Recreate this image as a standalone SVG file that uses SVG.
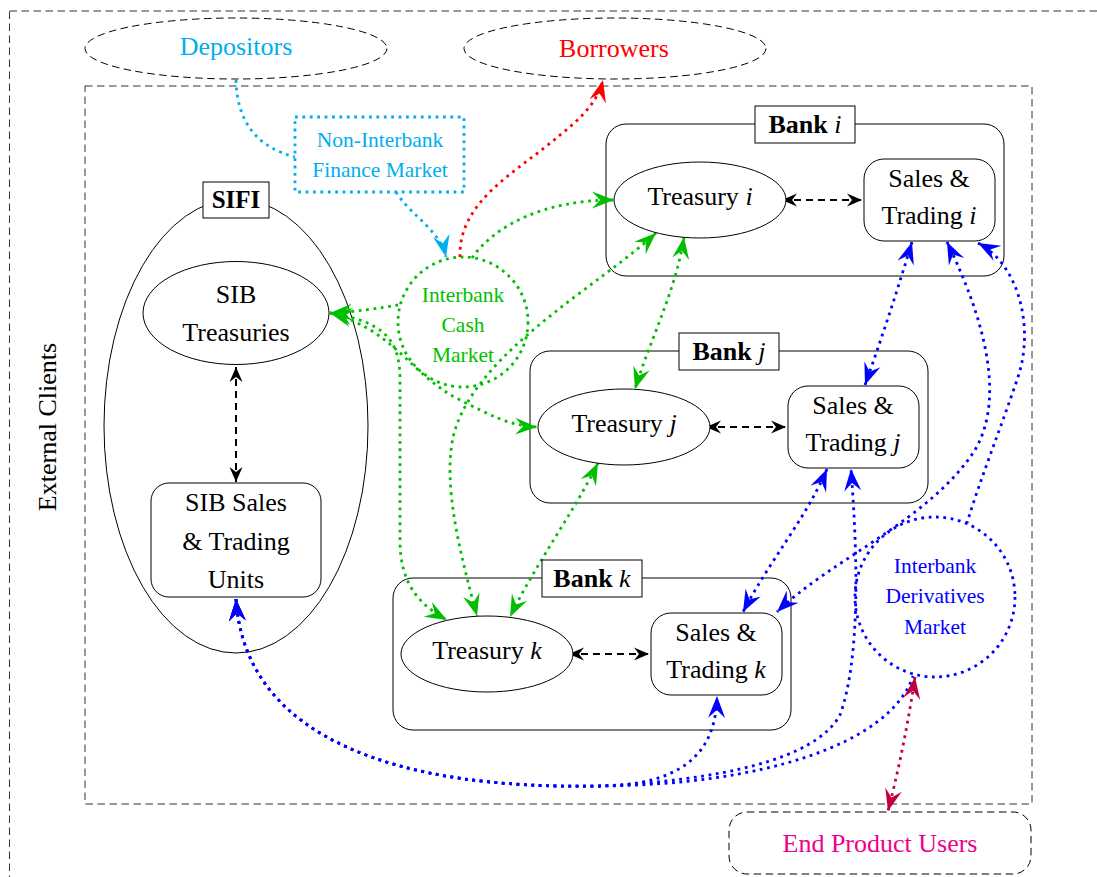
<svg xmlns="http://www.w3.org/2000/svg" width="1097" height="877" viewBox="0 0 1097 877">
<style>
text{font-family:"Liberation Serif","Times New Roman",serif;text-anchor:middle}
.n{font-size:26px;fill:#000}
.sm{font-size:21.5px}
.b{font-weight:bold}
.it{font-style:italic;font-weight:normal}
.frame{fill:none;stroke:#333;stroke-width:1;stroke-dasharray:7.5 4.5}
.ol{fill:none;stroke:#000;stroke-width:1}
.wf{fill:#fff;stroke:#000;stroke-width:1}
.dot{fill:none;stroke-width:2.8;stroke-dasharray:2.8 4.6}
.g{stroke:#00bf00}
.bl{stroke:#0000ff}
.cy{stroke:#00aeef}
.rd{stroke:#ff0000}
.pu{stroke:#bf0040}
.bd{fill:none;stroke:#000;stroke-width:2;stroke-dasharray:7 5}
</style>
<defs>
<marker id="ag" viewBox="0 0 23 20" markerWidth="23" markerHeight="20" refX="22" refY="10" orient="auto-start-reverse" markerUnits="userSpaceOnUse"><path d="M22,10 L0,1.5 L8,10 L0,18.5 Z" fill="#00bf00"/></marker>
<marker id="ab" viewBox="0 0 23 20" markerWidth="23" markerHeight="20" refX="22" refY="10" orient="auto-start-reverse" markerUnits="userSpaceOnUse"><path d="M22,10 L0,1.5 L8,10 L0,18.5 Z" fill="#0000ff"/></marker>
<marker id="ac" viewBox="0 0 23 20" markerWidth="23" markerHeight="20" refX="22" refY="10" orient="auto-start-reverse" markerUnits="userSpaceOnUse"><path d="M22,10 L0,1.5 L8,10 L0,18.5 Z" fill="#00aeef"/></marker>
<marker id="ar" viewBox="0 0 23 20" markerWidth="23" markerHeight="20" refX="22" refY="10" orient="auto-start-reverse" markerUnits="userSpaceOnUse"><path d="M22,10 L0,1.5 L8,10 L0,18.5 Z" fill="#ff0000"/></marker>
<marker id="ap" viewBox="0 0 23 20" markerWidth="23" markerHeight="20" refX="22" refY="10" orient="auto-start-reverse" markerUnits="userSpaceOnUse"><path d="M22,10 L0,1.5 L8,10 L0,18.5 Z" fill="#bf0040"/></marker>
<marker id="ak" viewBox="0 0 16 14" markerWidth="16" markerHeight="14" refX="15" refY="7" orient="auto-start-reverse" markerUnits="userSpaceOnUse"><path d="M15,7 L0,0.5 L5,7 L0,13.5 Z" fill="#000"/></marker>
</defs>
<rect width="1097" height="877" fill="#fff"/>

<g id="frames">
<rect class="frame" x="9.5" y="11" width="1200" height="1000"/>
<rect class="frame" x="85" y="86" width="947" height="718"/>
<text class="n" transform="translate(56,427) rotate(-90)">External Clients</text>
</g>

<g id="depositors">
<ellipse class="frame" cx="236" cy="48.5" rx="151" ry="30.5" style="stroke:#000"/>
<text class="n" x="236" y="55" style="fill:#00aeef">Depositors</text>
</g>
<g id="borrowers">
<ellipse class="frame" cx="615" cy="48.5" rx="151" ry="30.5" style="stroke:#000"/>
<text class="n" x="614" y="57" style="fill:#ff0000">Borrowers</text>
</g>
<g id="end-users">
<rect class="frame" x="729" y="812" width="302" height="62" rx="18" style="stroke:#000"/>
<text class="n" x="880" y="852" style="fill:#ec008c">End Product Users</text>
</g>

<g id="sifi-container">
<ellipse class="ol" cx="236" cy="426" rx="132" ry="227"/>
</g>
<g id="bank-i-container"><rect class="ol" x="606" y="124" width="398" height="152" rx="20"/></g>
<g id="bank-j-container"><rect class="ol" x="530" y="351" width="398" height="152" rx="20"/></g>
<g id="bank-k-container"><rect class="ol" x="393" y="578" width="398" height="152" rx="20"/></g>

<g id="connectors">
<path class="dot cy" d="M236,80 C237,125 260,148 295,157"/>
<path class="dot cy" d="M396,192 C410,215 440,230 446,257" marker-end="url(#ac)"/>
<path class="dot rd" d="M460,257 C458,200 520,170 560,135 C585,115 598,100 603,80" marker-end="url(#ar)"/>
<path class="dot g" d="M472,258 C495,225 545,200 614,200" marker-end="url(#ag)"/>
<path class="dot g" d="M656,233 C600,285 480,350 455,430 C440,480 462,560 477,616" marker-start="url(#ag)" marker-end="url(#ag)"/>
<path class="dot g" d="M684,237 C676,290 650,340 635,389" marker-start="url(#ag)" marker-end="url(#ag)"/>
<path class="dot g" d="M598,463 C575,510 535,565 510,617" marker-start="url(#ag)" marker-end="url(#ag)"/>
<path class="dot g" d="M398,305 C380,308 355,312 330,313" marker-end="url(#ag)"/>
<path class="dot g" d="M330,313 C395,330 410,375 460,400 C490,415 510,426 537,427" marker-start="url(#ag)" marker-end="url(#ag)"/>
<path class="dot g" d="M330,313 C385,322 400,340 400,380 L400,540 C400,585 420,605 447,620" marker-start="url(#ag)" marker-end="url(#ag)"/>
<path class="dot bl" d="M912,242 Q890,315 865,385" marker-start="url(#ab)" marker-end="url(#ab)"/>
<path class="dot bl" d="M947,242 C975,300 1010,390 975,450 C930,520 830,560 777,612" marker-start="url(#ab)" marker-end="url(#ab)"/>
<path class="dot bl" d="M978,243 C1020,265 1035,330 1017,380 C1000,430 980,480 967,523" marker-start="url(#ab)"/>
<path class="dot bl" d="M827,469 C805,520 770,560 743,612" marker-start="url(#ab)" marker-end="url(#ab)"/>
<path class="dot bl" d="M236,599 C245,740 400,790 600,786 C720,780 815,760 840,715 C860,660 858,560 851,469" marker-start="url(#ab)" marker-end="url(#ab)"/>
<path class="dot bl" d="M236,599 C245,740 400,790 600,786 C680,785 716,755 717,696" marker-start="url(#ab)" marker-end="url(#ab)"/>
<path class="dot bl" d="M236,599 C245,740 400,790 600,786 C760,785 890,745 913,676" marker-start="url(#ab)"/>
<path class="dot pu" d="M915,677 Q905,745 888,811" marker-start="url(#ap)" marker-end="url(#ap)"/>
<path class="bd" d="M236,367 L236,482" marker-start="url(#ak)" marker-end="url(#ak)"/>
<path class="bd" d="M782,200 L862,200" marker-start="url(#ak)" marker-end="url(#ak)"/>
<path class="bd" d="M706,427 L786,427" marker-start="url(#ak)" marker-end="url(#ak)"/>
<path class="bd" d="M569,654 L649,654" marker-start="url(#ak)" marker-end="url(#ak)"/>
</g>

<g id="non-interbank">
<rect class="dot cy" x="295" y="117" width="169" height="75"/>
<text class="sm" x="380" y="147" style="fill:#00aeef">Non-Interbank</text>
<text class="sm" x="380" y="177" style="fill:#00aeef">Finance Market</text>
</g>
<g id="cash-market">
<circle class="dot g" cx="463" cy="322" r="65"/>
<text class="sm" x="463" y="302" style="fill:#00bf00">Interbank</text>
<text class="sm" x="463" y="332" style="fill:#00bf00">Cash</text>
<text class="sm" x="463" y="362" style="fill:#00bf00">Market</text>
</g>
<g id="derivatives-market">
<circle class="dot bl" cx="935" cy="597" r="80"/>
<text class="sm" x="935" y="573" style="fill:#0000ff">Interbank</text>
<text class="sm" x="935" y="603" style="fill:#0000ff">Derivatives</text>
<text class="sm" x="935" y="634" style="fill:#0000ff">Market</text>
</g>

<g id="sifi-label">
<rect class="wf" x="203" y="182" width="66" height="36"/>
<text class="n b" x="236" y="208" style="font-size:25px">SIFI</text>
</g>
<g id="sib-treasuries">
<ellipse class="wf" cx="236" cy="313" rx="93" ry="51.5"/>
<text class="n" x="236" y="303">SIB</text>
<text class="n" x="236" y="341">Treasuries</text>
</g>
<g id="sib-sales-trading">
<rect class="wf" x="151" y="483" width="170" height="114" rx="18"/>
<text class="n" x="236" y="511">SIB Sales</text>
<text class="n" x="236" y="550">&amp; Trading</text>
<text class="n" x="236" y="588">Units</text>
</g>

<g id="bank-i-label">
<rect class="wf" x="755" y="106" width="100" height="37"/>
<text class="n b" x="805" y="133">Bank <tspan class="it">i</tspan></text>
</g>
<g id="treasury-i">
<ellipse class="wf" cx="700" cy="200" rx="86" ry="38"/>
<text class="n" x="700" y="205">Treasury <tspan class="it">i</tspan></text>
</g>
<g id="sales-trading-i">
<rect class="wf" x="864" y="159" width="131" height="82" rx="20"/>
<text class="n" x="929" y="187">Sales &amp;</text>
<text class="n" x="929" y="224">Trading <tspan class="it">i</tspan></text>
</g>

<g id="bank-j-label">
<rect class="wf" x="679" y="333" width="100" height="37"/>
<text class="n b" x="729" y="360">Bank <tspan class="it">j</tspan></text>
</g>
<g id="treasury-j">
<ellipse class="wf" cx="624" cy="427" rx="86" ry="38"/>
<text class="n" x="624" y="432">Treasury <tspan class="it">j</tspan></text>
</g>
<g id="sales-trading-j">
<rect class="wf" x="788" y="386" width="131" height="82" rx="20"/>
<text class="n" x="853" y="414">Sales &amp;</text>
<text class="n" x="853" y="451">Trading <tspan class="it">j</tspan></text>
</g>

<g id="bank-k-label">
<rect class="wf" x="542" y="560" width="100" height="37"/>
<text class="n b" x="592" y="587">Bank <tspan class="it">k</tspan></text>
</g>
<g id="treasury-k">
<ellipse class="wf" cx="487" cy="654" rx="86" ry="38"/>
<text class="n" x="487" y="659">Treasury <tspan class="it">k</tspan></text>
</g>
<g id="sales-trading-k">
<rect class="wf" x="651" y="613" width="131" height="82" rx="20"/>
<text class="n" x="716" y="641">Sales &amp;</text>
<text class="n" x="716" y="678">Trading <tspan class="it">k</tspan></text>
</g>
</svg>
